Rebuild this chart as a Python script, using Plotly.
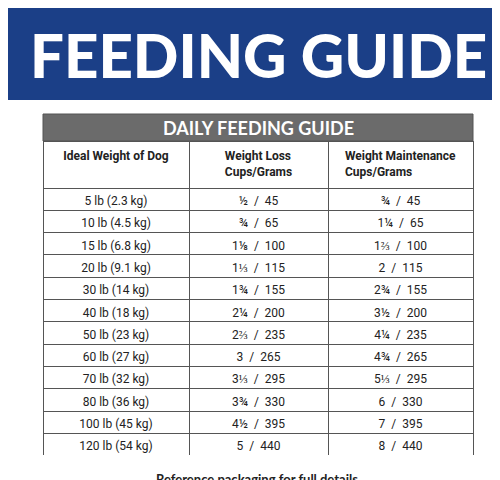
import plotly.graph_objects as go

weights = ["5 lb (2.3 kg)","10 lb (4.5 kg)","15 lb (6.8 kg)","20 lb (9.1 kg)","30 lb (14 kg)","40 lb (18 kg)",
           "50 lb (23 kg)","60 lb (27 kg)","70 lb (32 kg)","80 lb (36 kg)","100 lb (45 kg)","120 lb (54 kg)"]
loss_cups = ["½","¾","1⅛","1⅓","1¾","2¼","2⅔","3","3⅓","3¾","4½","5"]
loss_grams = [45,65,100,115,155,200,235,265,295,330,395,440]
maint_cups = ["¾","1¼","1⅔","2","2¾","3½","4¼","4¾","5⅓","6","7","8"]
maint_grams = [45,65,100,115,155,200,235,265,295,330,395,440]
headers = ["<b>Ideal Weight of Dog</b>","<b>Weight Loss<br>Cups/Grams</b>","<b>Weight Maintenance<br>Cups/Grams</b>"]

W, H = 500, 480
fig = go.Figure(go.Table(
    domain=dict(x=[35/W, 465/W], y=[1-447/H, 1-133/H]),
    columnwidth=[146, 139, 145],
    header=dict(values=headers, height=47, align="center",
                fill_color="white", line=dict(color="#555555", width=1),
                font=dict(family="Roboto", size=12, color="#222222")),
    cells=dict(values=[weights,
                       [f"{c}  /  {g}" for c, g in zip(loss_cups, loss_grams)],
                       [f"{c}  /  {g}" for c, g in zip(maint_cups, maint_grams)]],
               height=22.3, align="center", fill_color="white",
               line=dict(color="#555555", width=1),
               font=dict(family="Roboto", size=12, color="#222222")),
))
fig.add_shape(type="rect", xref="paper", yref="paper", x0=0, x1=1, y0=1-92/H, y1=1,
              fillcolor="#1b3f87", line_width=0, layer="below")
fig.add_shape(type="rect", xref="paper", yref="paper", x0=35/W, x1=465/W, y0=1-133/H, y1=1-106/H,
              fillcolor="#6b6b6b", line=dict(color="#555555", width=1))
fig.add_annotation(x=0.5, y=1-47/H, xref="paper", yref="paper", yanchor="middle", text="FEEDING GUIDE",
                   showarrow=False, font=dict(family="Lato", size=60, color="white", weight=900))
fig.add_annotation(x=0.5, y=1-119.5/H, xref="paper", yref="paper", yanchor="middle", text="<b>DAILY FEEDING GUIDE</b>",
                   showarrow=False, font=dict(family="Lato", size=18, color="white"))
fig.add_annotation(x=0.5, y=1-471/H, xref="paper", yref="paper", yanchor="middle", text="<b>Reference packaging for full details.</b>",
                   showarrow=False, font=dict(family="Lato", size=13, color="#222222"))
fig.update_layout(width=W, height=H, margin=dict(l=0, r=0, t=0, b=0),
                  paper_bgcolor="white", plot_bgcolor="white")
fig.write_html("out.html")
